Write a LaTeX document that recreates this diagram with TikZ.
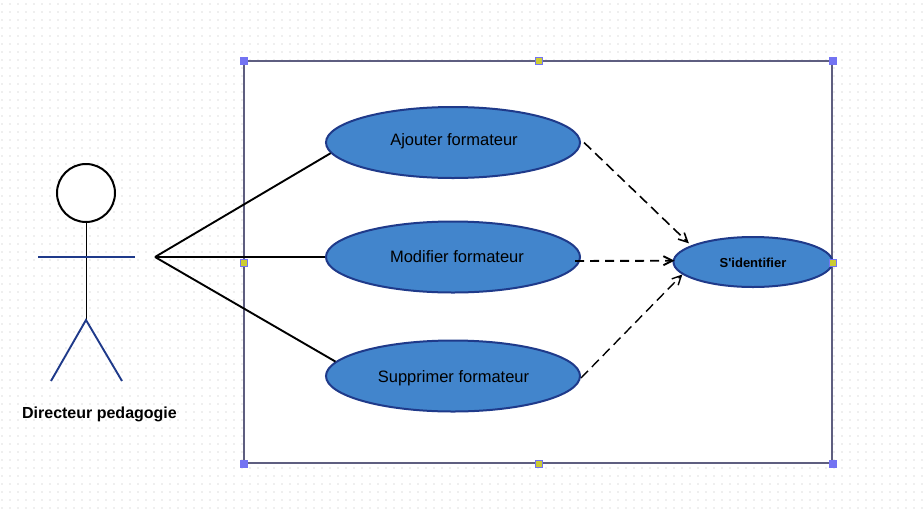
\documentclass[tikz,border=0pt]{standalone}
\usepackage{fontspec}
\setmainfont{Liberation Sans}
\newfontfamily\rawf{Liberation Sans}
\usetikzlibrary{shapes.geometric,arrows.meta}
\definecolor{ufill}{HTML}{4285CC}
\definecolor{uline}{HTML}{1F3A8A}
\definecolor{frameC}{HTML}{5E5E80}
\definecolor{dotC}{HTML}{EFEFEF}
\definecolor{handleB}{HTML}{7373F2}
\definecolor{handleY}{HTML}{CCCC33}
\tikzset{
 x=1pt,y=-1pt,
 usecase/.style={ellipse,draw=uline,fill=ufill,line width=2pt,inner sep=0pt},
 uclabel/.style={font=\fontsize{16.5}{18}\selectfont,text=black},
 bluelimb/.style={draw=uline,line width=1.9pt},
 assoc/.style={draw=black,line width=1.9pt},
 dep/.style={draw=black,line width=1.6pt,dash pattern=on 10pt off 5.5pt,-{Straight Barb[length=9pt,width=9pt]}},
 cornerh/.style={rectangle,fill=handleB,minimum size=8pt,inner sep=0pt},
 midh/.style={rectangle,fill=handleB,minimum size=8pt,inner sep=0pt,path picture={\fill[handleY] ([xshift=1pt,yshift=1pt]path picture bounding box.south west) rectangle ([xshift=-1pt,yshift=-1pt]path picture bounding box.north east);}},
}
\begin{document}
\begin{tikzpicture}
\useasboundingbox (0,0) rectangle (923,509);
\fill[white] (0,0) rectangle (923,509);
\foreach \i in {0,...,115}{\foreach \j in {0,...,63}{
  \fill[dotC] ({1.25+8*\i},{3.25+8*\j}) rectangle ++(1.5,1.5);
}}
% frame
\node[draw=frameC,fill=white,line width=2pt,rectangle,inner sep=0pt,minimum width=588pt,minimum height=402pt] (frame) at (538,262) {};
% actor
\node[circle,draw=black,line width=2pt,fill=white,minimum size=58pt,inner sep=0pt] (head) at (86,193) {};
\coordinate (hip) at (86,320);
\coordinate (armL) at (38,257);
\coordinate (armR) at (135,257);
\coordinate (footL) at (51,381);
\coordinate (footR) at (122,381);
\coordinate (hub) at (155,257);
\draw[black,line width=0.8pt] (head) -- (hip);
\draw[bluelimb] (armL) -- (armR);
\draw[bluelimb] (footL) -- (hip) -- (footR);
\node[font=\bfseries\fontsize{16}{18}\selectfont] (actor) at (99.5,414) {Directeur pedagogie};
% use cases
\node[usecase,minimum width=254pt,minimum height=71pt] (ajout) at (453,142.5) {};
\node[usecase,minimum width=254pt,minimum height=71pt] (modif) at (453,257) {};
\node[usecase,minimum width=254pt,minimum height=71pt] (suppr) at (453,376) {};
\node[usecase,minimum width=159pt,minimum height=50pt] (ident) at (753,262) {};
\node[uclabel] (tajout) at (454,141.5) {Ajouter formateur};
\node[uclabel] (tmodif) at (457,257) {Modifier formateur};
\node[uclabel] (tsuppr) at (453.5,378) {Supprimer formateur};
\node[font=\rawf\bfseries\fontsize{13}{15}\selectfont] (tident) at (753,262.5) {S'identifier};
% associations
\draw[assoc] (hub) -- (ajout.185.5);
\draw[assoc] (hub) -- (modif);
\draw[assoc] (hub) -- (suppr.173);
% dependencies
\draw[dep,shorten >=3pt] ([xshift=3pt]ajout.east) -- (ident.165);
\draw[dep,line width=1.9pt,dash pattern=on 9pt off 6pt] ([xshift=-6pt,yshift=-4pt]modif.east) -- ([xshift=2pt,yshift=1.3pt]ident.west);
\draw[dep,line width=1.4pt] ([yshift=-2pt]suppr.east) -- (ident.190);
% handles
\foreach \n/\p in {c1/{(244,61)},c2/{(833,61)},c3/{(244,463.5)},c4/{(833,463.5)}}{\node[cornerh] (\n) at \p {};}
\foreach \n/\p in {m1/{(538.5,61)},m2/{(538.5,463.5)},m3/{(244,262.5)},m4/{(833,262.5)}}{\node[midh] (\n) at \p {};}
\end{tikzpicture}
\end{document}
